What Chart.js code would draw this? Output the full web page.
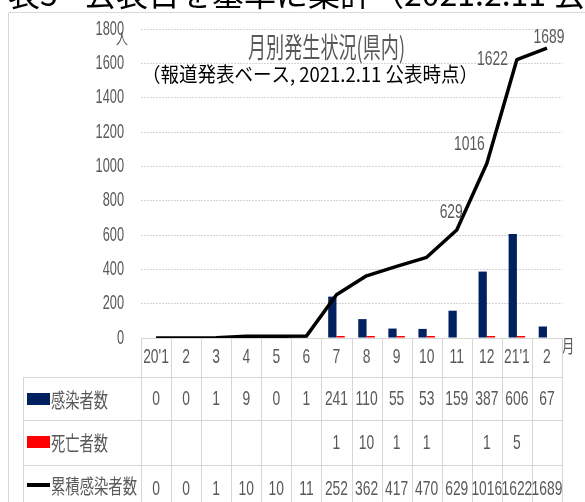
<!DOCTYPE html>
<html>
<head>
<meta charset="utf-8">
<script src="https://cdn.jsdelivr.net/npm/chart.js@4.4.1/dist/chart.umd.min.js"></script>
<style>
  body { margin: 0; background: #fff; }
  canvas { display: block; }
</style>
</head>
<body>
<canvas id="chart" width="585" height="502"></canvas>
<script>
// month labels and series
const months = ["20'1", '2', '3', '4', '5', '6', '7', '8', '9', '10', '11', '12', "21'1", '2'];
const infected = [0, 0, 1, 9, 0, 1, 241, 110, 55, 53, 159, 387, 606, 67];
const deaths = [null, null, null, null, null, null, 1, 10, 1, 1, null, 1, 5, null];
const cumulative = [0, 0, 1, 10, 10, 11, 252, 362, 417, 470, 629, 1016, 1622, 1689];
const rowNames = ['感染者数', '死亡者数', '累積感染者数'];

const GRAY = '#595959';
const NUM_FONT = '21px "Liberation Sans", Arial, sans-serif';
const JP_FONT = '"Noto Sans CJK JP", sans-serif';

// draw text squeezed horizontally (Excel's narrow font)
function drawText(ctx, s, x, y, font, color, align, sx, base) {
  ctx.save();
  ctx.font = font;
  ctx.fillStyle = color;
  ctx.textAlign = 'left';
  ctx.textBaseline = base || 'middle';
  const w = ctx.measureText(s).width * sx;
  const x0 = align === 'center' ? x - w / 2 : align === 'right' ? x - w : x;
  ctx.translate(x0, y);
  ctx.scale(sx, 1);
  ctx.fillText(s, 0, 0);
  ctx.restore();
}

function fitText(ctx, s, x, y, font, color, width) {
  ctx.save();
  ctx.font = font;
  const sx = width / ctx.measureText(s).width;
  ctx.restore();
  drawText(ctx, s, x, y, font, color, 'left', sx);
}

const fmt = v => (v === null || v === undefined) ? '' : String(v);

const decorPlugin = {
  id: 'decor',
  beforeDraw(chart) {
    const ctx = chart.ctx;
    ctx.save();
    ctx.fillStyle = '#fff';
    ctx.fillRect(0, 0, chart.width, chart.height);
    // heading of the page above the chart (cut off)
    ctx.font = '32px ' + JP_FONT;
    ctx.fillStyle = '#000';
    ctx.textBaseline = 'ideographic';
    ctx.fillText('表5', 8, 10);
    ctx.fillText('公表日を基準に集計（2021.2.11 公表時点）', 84, 10);
    // chart frame
    ctx.strokeStyle = '#d9d9d9';
    ctx.lineWidth = 1;
    ctx.beginPath();
    ctx.moveTo(8.5, chart.height);
    ctx.lineTo(8.5, 12.5);
    ctx.lineTo(chart.width, 12.5);
    ctx.stroke();
    ctx.restore();
  },
  afterDraw(chart) {
    const ctx = chart.ctx;
    const x = chart.scales.x;
    const y = chart.scales.y;

    // y tick labels
    y.ticks.forEach(t => {
      drawText(ctx, String(t.value), 124, y.getPixelForValue(t.value), '20px "Liberation Sans", Arial, sans-serif', GRAY, 'right', 0.64);
    });
    drawText(ctx, '人', 122, 38, '15px ' + JP_FONT, GRAY, 'center', 0.8);
    drawText(ctx, '月', 568, 346, '18px ' + JP_FONT, GRAY, 'center', 0.7);

    // title + subtitle
    fitText(ctx, '月別発生状況(県内)', 248, 47, '28px ' + JP_FONT, GRAY, 157);
    fitText(ctx, '（報道発表ベース, 2021.2.11 公表時点）', 142, 74, '20px ' + JP_FONT, '#000', 336);

    // data labels on the cumulative line
    const pts = chart.getDatasetMeta(0).data;
    const place = { 10: [6, -18, 'right'], 11: [-2, -19, 'right'], 12: [-9, 0, 'right'], 13: [2, -11, 'center'] };
    Object.keys(place).forEach(k => {
      const p = pts[k];
      const [dx, dy, al] = place[k];
      drawText(ctx, String(cumulative[k]), p.x + dx, p.y + dy, NUM_FONT, GRAY, al, 0.66);
    });

    // data table under the plot
    const n = months.length;
    const cw = (x.right - x.left) / n;
    const rows = [338, 377, 420, 465, 512];
    ctx.save();
    ctx.strokeStyle = '#d6d6d6';
    ctx.lineWidth = 1;
    ctx.beginPath();
    ctx.moveTo(x.left, rows[0] + 0.5);
    ctx.lineTo(x.right, rows[0] + 0.5);
    for (let r = 1; r < 4; r++) {
      ctx.moveTo(23, rows[r] + 0.5);
      ctx.lineTo(x.right, rows[r] + 0.5);
    }
    for (let i = 0; i <= n; i++) {
      const lx = Math.round(x.left + i * cw) + 0.5;
      ctx.moveTo(lx, rows[0]);
      ctx.lineTo(lx, rows[4]);
    }
    ctx.moveTo(23.5, rows[1]);
    ctx.lineTo(23.5, rows[4]);
    ctx.stroke();
    ctx.restore();

    const series = [infected, deaths, cumulative];
    months.forEach((m, i) => {
      const cx = x.getPixelForValue(i);
      drawText(ctx, m, cx, 357, NUM_FONT, GRAY, 'center', 0.66);
      series.forEach((s, r) => {
        drawText(ctx, fmt(s[i]), cx, (rows[r + 1] + rows[r + 2]) / 2 + 1, NUM_FONT, GRAY, 'center', 0.66);
      });
    });

    // legend keys inside the table
    ctx.save();
    ctx.fillStyle = '#002060';
    ctx.fillRect(27, 393, 23, 12);
    ctx.fillStyle = '#ff0000';
    ctx.fillRect(27, 436, 23, 12);
    ctx.fillStyle = '#000';
    ctx.fillRect(27, 483, 23, 4);
    ctx.restore();
    fitText(ctx, rowNames[0], 51, 400, '20px ' + JP_FONT, GRAY, 57);
    fitText(ctx, rowNames[1], 51, 443, '20px ' + JP_FONT, GRAY, 57);
    fitText(ctx, rowNames[2], 51, 486, '20px ' + JP_FONT, GRAY, 86);
  }
};

const ctx = document.getElementById('chart').getContext('2d');
new Chart(ctx, {
  data: {
    labels: months,
    datasets: [
      {
        type: 'line',
        label: rowNames[2],
        data: cumulative,
        borderColor: '#000',
        borderWidth: 3.5,
        borderJoinStyle: 'round',
        pointRadius: 0,
        tension: 0,
        order: 0
      },
      {
        type: 'bar',
        label: rowNames[0],
        data: infected,
        backgroundColor: '#002060',
        categoryPercentage: 0.55,
        barPercentage: 1,
        order: 1
      },
      {
        type: 'bar',
        label: rowNames[1],
        data: deaths,
        backgroundColor: '#ff0000',
        categoryPercentage: 0.55,
        barPercentage: 1,
        minBarLength: 2,
        order: 1
      }
    ]
  },
  options: {
    responsive: false,
    animation: false,
    layout: { padding: { top: 29, right: 23, left: 0, bottom: 0 } },
    plugins: {
      legend: { display: false },
      tooltip: { enabled: false }
    },
    scales: {
      x: {
        ticks: { display: false },
        grid: { display: false },
        border: { display: false },
        afterFit: s => { s.height = 164; }
      },
      y: {
        min: 0,
        max: 1800,
        ticks: { stepSize: 200, display: false },
        grid: { color: '#d4d4d4', drawTicks: false },
        border: { display: false, dash: [2, 1] },
        afterFit: s => { s.width = 141; }
      }
    }
  },
  plugins: [decorPlugin]
});
</script>
</body>
</html>
